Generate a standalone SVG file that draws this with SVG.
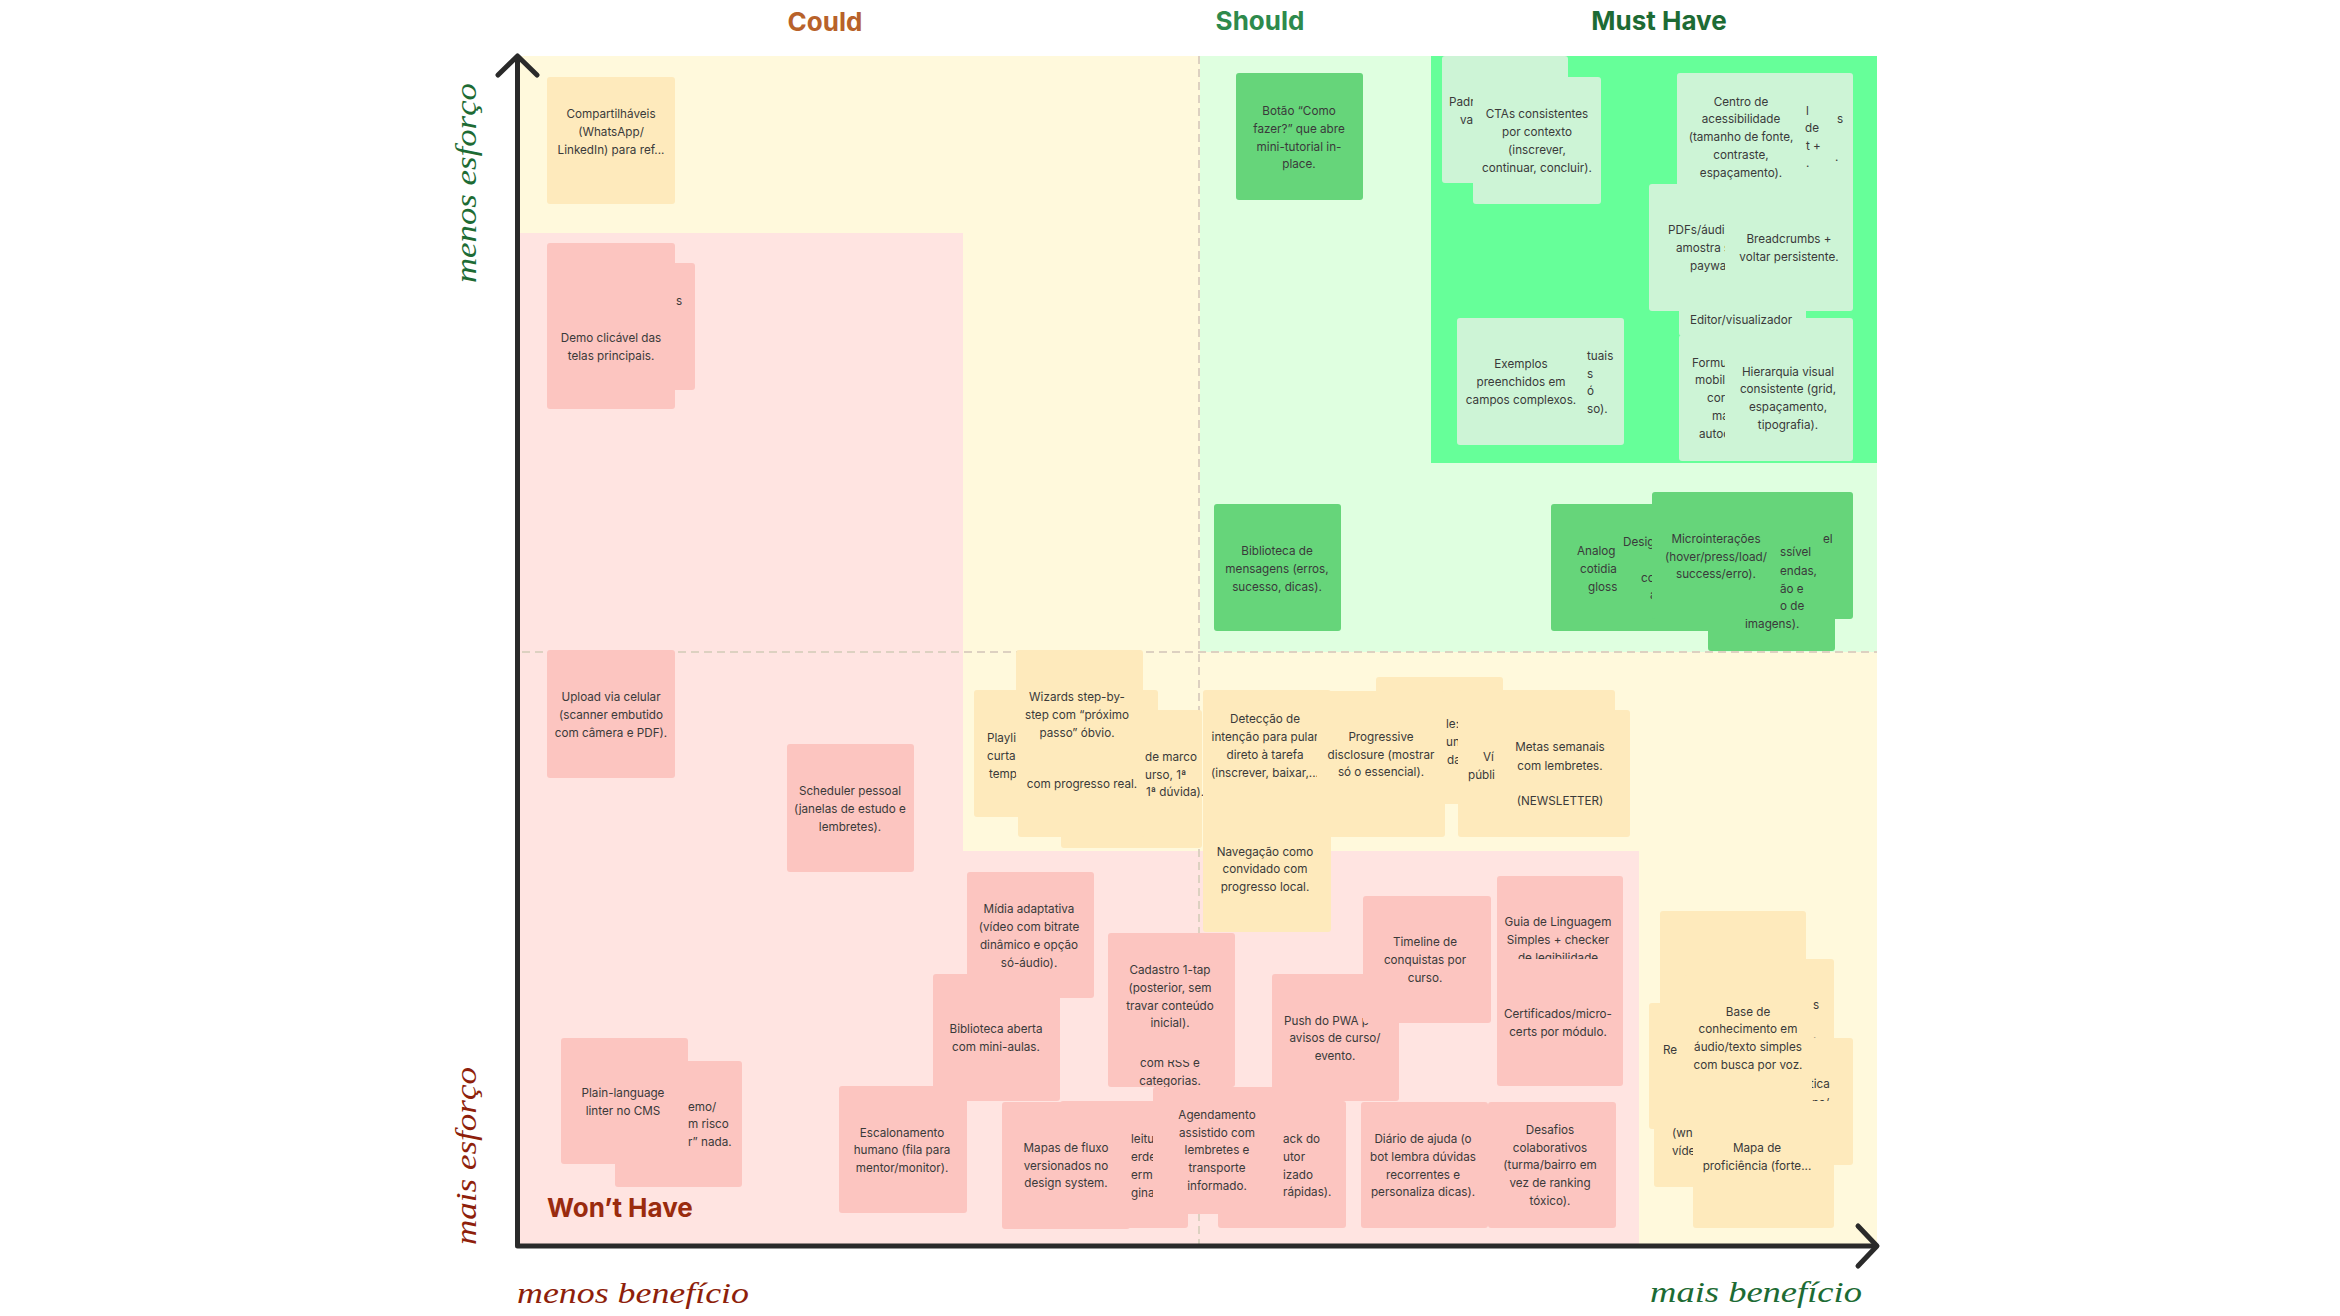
<svg xmlns="http://www.w3.org/2000/svg" width="2340" height="1316" viewBox="0 0 2340 1316">
<style>
.t{font-family:Inter,"Noto Sans","Liberation Sans",sans-serif;font-size:11.7px;fill:#3a3a3a;text-anchor:middle}
.f{text-anchor:start}
.pk{fill:#fcc5c0}
.yl{fill:#feeabc}
.gr{fill:#66d57a}
.lg{fill:#cdf4d6}
.dash{stroke:#ddd1c1;stroke-width:2;stroke-dasharray:8 5;fill:none}
.axis{stroke:#2a2a2a;stroke-width:5;fill:none;stroke-linecap:round;stroke-linejoin:round}
.hd{font-family:Inter,"Liberation Sans",sans-serif;font-weight:700;font-size:26px}
.hw{font-family:"Liberation Serif","DejaVu Serif",serif;font-style:italic;font-size:30px}
</style>
<rect width="2340" height="1316" fill="#ffffff"/>
<g id="quadrants">
<rect x="520" y="56" width="1357" height="1190" fill="#fff9dc"/>
<rect x="1200" y="56" width="677" height="596" fill="#dfffe0"/>
<rect x="1431" y="56" width="446" height="407" fill="#66ff99"/>
<polygon points="520,233 963,233 963,851 1639,851 1639,1246 520,1246" fill="#ffe4e1"/>
</g>
<g id="connectors">
<line x1="1199" y1="56" x2="1199" y2="1244" class="dash"/>
<line x1="522" y1="652" x2="1877" y2="652" class="dash"/>
<path d="M517.5,58 V1246 H1876" class="axis"/>
<polyline points="498,75 517.5,56 537,75" class="axis"/>
<polyline points="1858,1226 1877,1246 1858,1266" class="axis"/>
</g>
<g id="labels">
<text class="hd" x="825" y="31" text-anchor="middle" fill="#b8622a">Could</text>
<text class="hd" x="1260" y="30" text-anchor="middle" fill="#2e8a4c">Should</text>
<text class="hd" x="1659" y="30" text-anchor="middle" fill="#1d6b34">Must Have</text>
<text class="hd" x="547" y="1217" fill="#9a2b0e">Won’t Have</text>
<text class="hw" transform="translate(476,183) rotate(-90)" text-anchor="middle" fill="#1d6b34" textLength="200" lengthAdjust="spacingAndGlyphs">menos esforço</text>
<text class="hw" transform="translate(476,1156) rotate(-90)" text-anchor="middle" fill="#8e1f0b" textLength="178" lengthAdjust="spacingAndGlyphs">mais esforço</text>
<text class="hw" x="517" y="1303" fill="#8e1f0b" textLength="232" lengthAdjust="spacingAndGlyphs">menos benefício</text>
<text class="hw" x="1650" y="1302" fill="#1d6b34" textLength="212" lengthAdjust="spacingAndGlyphs">mais benefício</text>
</g>
<g id="nodes">
<g id="compartilhaveis"><rect class="yl" x="547" y="77" width="128" height="127" rx="3"/><text class="t"><tspan x="611" y="118">Compartilháveis</tspan><tspan x="611" y="136">(WhatsApp/</tspan><tspan x="611" y="154">LinkedIn) para ref...</tspan></text></g>
<g id="demo-back1"><rect class="pk" x="547" y="243" width="128" height="127" rx="3"/></g>
<g id="demo-back2"><rect class="pk" x="567" y="263" width="128" height="127" rx="3"/><text class="t f" x="676" y="305">s</text></g>
<g id="demo"><rect class="pk" x="547" y="282" width="128" height="127" rx="3"/><text class="t"><tspan x="611" y="342">Demo clicável das</tspan><tspan x="611" y="360">telas principais.</tspan></text></g>
<g id="upload"><rect class="pk" x="547" y="650" width="128" height="128" rx="3"/><text class="t"><tspan x="611" y="701">Upload via celular</tspan><tspan x="611" y="719">(scanner embutido</tspan><tspan x="611" y="737">com câmera e PDF).</tspan></text></g>
<g id="scheduler"><rect class="pk" x="787" y="744" width="127" height="128" rx="3"/><text class="t"><tspan x="850" y="795">Scheduler pessoal</tspan><tspan x="850" y="813">(janelas de estudo e</tspan><tspan x="850" y="831">lembretes).</tspan></text></g>
<g id="modo-demo"><rect class="pk" x="615" y="1061" width="127" height="126" rx="3"/><text class="t f"><tspan x="688" y="1111">emo/</tspan><tspan x="688" y="1128">m risco</tspan><tspan x="688" y="1146">r” nada.</tspan></text></g>
<g id="plain-language"><rect class="pk" x="561" y="1038" width="127" height="126" rx="3"/><text class="t"><tspan x="623" y="1097">Plain-language</tspan><tspan x="623" y="1115">linter no CMS</tspan></text></g>
<g id="escalonamento"><rect class="pk" x="839" y="1086" width="128" height="127" rx="3"/><text class="t"><tspan x="902" y="1137">Escalonamento</tspan><tspan x="902" y="1154">humano (fila para</tspan><tspan x="902" y="1172">mentor/monitor).</tspan></text></g>
<g id="midia"><rect class="pk" x="967" y="872" width="127" height="126" rx="3"/><text class="t"><tspan x="1029" y="913">Mídia adaptativa</tspan><tspan x="1029" y="931">(vídeo com bitrate</tspan><tspan x="1029" y="949">dinâmico e opção</tspan><tspan x="1029" y="967">só-áudio).</tspan></text></g>
<g id="biblioteca-aberta"><rect class="pk" x="933" y="974" width="127" height="127" rx="3"/><text class="t"><tspan x="996" y="1033">Biblioteca aberta</tspan><tspan x="996" y="1051">com mini-aulas.</tspan></text></g>
<g id="rss"><rect class="pk" x="1108" y="960" width="127" height="127" rx="3"/><text class="t"><tspan x="1170" y="1067">com RSS e</tspan><tspan x="1170" y="1085">categorias.</tspan></text></g>
<g id="cadastro"><rect class="pk" x="1108" y="933" width="127" height="127" rx="3"/><text class="t"><tspan x="1170" y="974">Cadastro 1-tap</tspan><tspan x="1170" y="992">(posterior, sem</tspan><tspan x="1170" y="1010">travar conteúdo</tspan><tspan x="1170" y="1027">inicial).</tspan></text></g>
<g id="leitura"><rect class="pk" x="1060" y="1101" width="128" height="127" rx="3"/><text class="t f"><tspan x="1131" y="1143">leitu</tspan><tspan x="1131" y="1161">erde,</tspan><tspan x="1131" y="1179">erme</tspan><tspan x="1131" y="1197">gina).</tspan></text></g>
<g id="feedback"><rect class="pk" x="1218" y="1101" width="128" height="127" rx="3"/><text class="t f"><tspan x="1283" y="1143">ack do</tspan><tspan x="1283" y="1161">utor</tspan><tspan x="1283" y="1179">izado</tspan><tspan x="1283" y="1196">rápidas).</tspan></text></g>
<g id="mapas-fluxo"><rect class="pk" x="1002" y="1102" width="128" height="127" rx="3"/><text class="t"><tspan x="1066" y="1152">Mapas de fluxo</tspan><tspan x="1066" y="1170">versionados no</tspan><tspan x="1066" y="1187">design system.</tspan></text></g>
<g id="agendamento"><rect class="pk" x="1153" y="1087" width="128" height="127" rx="3"/><text class="t"><tspan x="1217" y="1119">Agendamento</tspan><tspan x="1217" y="1137">assistido com</tspan><tspan x="1217" y="1154">lembretes e</tspan><tspan x="1217" y="1172">transporte</tspan><tspan x="1217" y="1190">informado.</tspan></text></g>
<g id="push-pwa"><rect class="pk" x="1272" y="974" width="127" height="127" rx="3"/><text class="t"><tspan class="f" x="1284" y="1025" text-anchor="start">Push do PWA p</tspan><tspan x="1335" y="1042">avisos de curso/</tspan><tspan x="1335" y="1060">evento.</tspan></text></g>
<g id="timeline"><rect class="pk" x="1363" y="896" width="128" height="127" rx="3"/><text class="t"><tspan x="1425" y="946">Timeline de</tspan><tspan x="1425" y="964">conquistas por</tspan><tspan x="1425" y="982">curso.</tspan></text></g>
<g id="guia-linguagem"><rect class="pk" x="1497" y="876" width="126" height="127" rx="3"/><text class="t"><tspan x="1558" y="926">Guia de Linguagem</tspan><tspan x="1558" y="944">Simples + checker</tspan><tspan x="1558" y="962">de legibilidade</tspan></text></g>
<g id="certificados"><rect class="pk" x="1497" y="959" width="126" height="127" rx="3"/><text class="t"><tspan x="1558" y="1018">Certificados/micro-</tspan><tspan x="1558" y="1036">certs por módulo.</tspan></text></g>
<g id="diario"><rect class="pk" x="1361" y="1102" width="127" height="126" rx="3"/><text class="t"><tspan x="1423" y="1143">Diário de ajuda (o</tspan><tspan x="1423" y="1161">bot lembra dúvidas</tspan><tspan x="1423" y="1179">recorrentes e</tspan><tspan x="1423" y="1196">personaliza dicas).</tspan></text></g>
<g id="desafios"><rect class="pk" x="1488" y="1102" width="128" height="126" rx="3"/><text class="t"><tspan x="1550" y="1134">Desafios</tspan><tspan x="1550" y="1152">colaborativos</tspan><tspan x="1550" y="1169">(turma/bairro em</tspan><tspan x="1550" y="1187">vez de ranking</tspan><tspan x="1550" y="1205">tóxico).</tspan></text></g>
<g id="playlist"><rect class="yl" x="974" y="690" width="184" height="127" rx="3"/><text class="t f"><tspan x="987" y="742">Playli</tspan><tspan x="987" y="760">curta</tspan><tspan x="989" y="778">temp</tspan></text></g>
<g id="marco"><rect class="yl" x="1061" y="710" width="141" height="138" rx="3"/><text class="t f"><tspan x="1145" y="761">de marco</tspan><tspan x="1145" y="779">urso, 1ª</tspan><tspan x="1146" y="796">1ª dúvida).</tspan></text></g>
<g id="progresso-real"><rect class="yl" x="1018" y="710" width="127" height="127" rx="3"/><text class="t" x="1082" y="788">com progresso real.</text></g>
<g id="wizards"><rect class="yl" x="1016" y="650" width="127" height="127" rx="3"/><text class="t"><tspan x="1077" y="701">Wizards step-by-</tspan><tspan x="1077" y="719">step com “próximo</tspan><tspan x="1077" y="737">passo” óbvio.</tspan></text></g>
<g id="navegacao"><rect class="yl" x="1203" y="805" width="128" height="127" rx="3"/><text class="t"><tspan x="1265" y="856">Navegação como</tspan><tspan x="1265" y="873">convidado com</tspan><tspan x="1265" y="891">progresso local.</tspan></text></g>
<g id="deteccao"><rect class="yl" x="1203" y="690" width="128" height="127" rx="3"/><text class="t"><tspan x="1265" y="723">Detecção de</tspan><tspan x="1265" y="741">intenção para pular</tspan><tspan x="1265" y="759">direto à tarefa</tspan><tspan x="1265" y="777">(inscrever, baixar,...</tspan></text></g>
<g id="sticky-le"><rect class="yl" x="1376" y="677" width="127" height="127" rx="3"/><text class="t f"><tspan x="1446" y="728">le:</tspan><tspan x="1446" y="746">un</tspan><tspan x="1447" y="764">da</tspan></text></g>
<g id="progressive"><rect class="yl" x="1317" y="691" width="128" height="146" rx="3"/><text class="t"><tspan x="1381" y="741">Progressive</tspan><tspan x="1381" y="759">disclosure (mostrar</tspan><tspan x="1381" y="776">só o essencial).</tspan></text></g>
<g id="videos"><rect class="yl" x="1458" y="690" width="157" height="147" rx="3"/><text class="t f"><tspan x="1483" y="761">Ví</tspan><tspan x="1468" y="779">públi</tspan></text></g>
<g id="metas"><rect class="yl" x="1497" y="710" width="133" height="127" rx="3"/><text class="t"><tspan x="1560" y="751">Metas semanais</tspan><tspan x="1560" y="770">com lembretes.</tspan><tspan x="1560" y="805">(NEWSLETTER)</tspan></text></g>
<g id="botao"><rect class="gr" x="1236" y="73" width="127" height="127" rx="3"/><text class="t"><tspan x="1299" y="115">Botão “Como</tspan><tspan x="1299" y="133">fazer?” que abre</tspan><tspan x="1299" y="151">mini-tutorial in-</tspan><tspan x="1299" y="168">place.</tspan></text></g>
<g id="biblioteca-mensagens"><rect class="gr" x="1214" y="504" width="127" height="127" rx="3"/><text class="t"><tspan x="1277" y="555">Biblioteca de</tspan><tspan x="1277" y="573">mensagens (erros,</tspan><tspan x="1277" y="591">sucesso, dicas).</tspan></text></g>
<g id="analogias"><rect class="gr" x="1551" y="504" width="128" height="127" rx="3"/><text class="t f"><tspan x="1577" y="555">Analog</tspan><tspan x="1580" y="573">cotidia</tspan><tspan x="1588" y="591">gloss</tspan></text></g>
<g id="design"><rect class="gr" x="1617" y="504" width="128" height="127" rx="3"/><text class="t f"><tspan x="1623" y="546">Desig</tspan><tspan x="1641" y="582">co</tspan><tspan x="1650" y="599">a</tspan></text></g>
<g id="sticky-el"><rect class="gr" x="1725" y="492" width="128" height="127" rx="3"/><text class="t f" x="1823" y="543">el</text></g>
<g id="acessivel"><rect class="gr" x="1708" y="547" width="127" height="104" rx="3"/><text class="t f"><tspan x="1780" y="556">ssível</tspan><tspan x="1780" y="575">endas,</tspan><tspan x="1780" y="593">ão e</tspan><tspan x="1780" y="610">o de</tspan><tspan x="1745" y="628">imagens).</tspan></text></g>
<g id="microinteracoes"><rect class="gr" x="1652" y="492" width="128" height="127" rx="3"/><text class="t"><tspan x="1716" y="543">Microinterações</tspan><tspan x="1716" y="561">(hover/press/load/</tspan><tspan x="1716" y="578">success/erro).</tspan></text></g>
<g id="padroes"><rect class="lg" x="1442" y="56" width="126" height="127" rx="3"/><text class="t f"><tspan x="1449" y="106">Padr</tspan><tspan x="1460" y="124">va</tspan></text></g>
<g id="ctas"><rect class="lg" x="1473" y="77" width="128" height="127" rx="3"/><text class="t"><tspan x="1537" y="118">CTAs consistentes</tspan><tspan x="1537" y="136">por contexto</tspan><tspan x="1537" y="154">(inscrever,</tspan><tspan x="1537" y="172">continuar, concluir).</tspan></text></g>
<g id="sticky-de"><rect class="lg" x="1725" y="73" width="128" height="127" rx="3"/><text class="t f"><tspan x="1806" y="115">l</tspan><tspan x="1805" y="132">de</tspan><tspan x="1806" y="150">t +</tspan><tspan x="1806" y="167">.</tspan></text></g>
<g id="sticky-s"><text class="t f"><tspan x="1837" y="123">s</tspan><tspan x="1835" y="161">.</tspan></text></g>
<g id="centro-acessibilidade"><rect class="lg" x="1677" y="73" width="128" height="127" rx="3"/><text class="t"><tspan x="1741" y="106">Centro de</tspan><tspan x="1741" y="123">acessibilidade</tspan><tspan x="1741" y="141">(tamanho de fonte,</tspan><tspan x="1741" y="159">contraste,</tspan><tspan x="1741" y="177">espaçamento).</tspan></text></g>
<g id="pdfs"><rect class="lg" x="1649" y="184" width="128" height="127" rx="3"/><text class="t f"><tspan x="1668" y="234">PDFs/áudi</tspan><tspan x="1676" y="252">amostra s</tspan><tspan x="1690" y="270">paywa</tspan></text></g>
<g id="breadcrumbs"><rect class="lg" x="1725" y="184" width="128" height="127" rx="3"/><text class="t"><tspan x="1789" y="243">Breadcrumbs +</tspan><tspan x="1789" y="261">voltar persistente.</tspan></text></g>
<g id="formularios"><rect class="lg" x="1679" y="335" width="128" height="126" rx="3"/><text class="t f"><tspan x="1692" y="367">Formu</tspan><tspan x="1695" y="384">mobil</tspan><tspan x="1707" y="402">cor</tspan><tspan x="1712" y="420">ma</tspan><tspan x="1699" y="438">autoc</tspan></text></g>
<g id="hierarquia"><rect class="lg" x="1725" y="318" width="128" height="143" rx="3"/><text class="t"><tspan x="1788" y="376">Hierarquia visual</tspan><tspan x="1788" y="393">consistente (grid,</tspan><tspan x="1788" y="411">espaçamento,</tspan><tspan x="1788" y="429">tipografia).</tspan></text></g>
<g id="editor"><rect class="lg" x="1679" y="300" width="127" height="36" rx="3"/><text class="t" x="1741" y="324">Editor/visualizador</text></g>
<g id="contextuais"><rect class="lg" x="1496" y="318" width="128" height="127" rx="3"/><text class="t f"><tspan x="1587" y="360">tuais</tspan><tspan x="1587" y="378">s</tspan><tspan x="1587" y="395">ó</tspan><tspan x="1587" y="413">so).</tspan></text></g>
<g id="exemplos"><rect class="lg" x="1457" y="318" width="128" height="127" rx="3"/><text class="t"><tspan x="1521" y="368">Exemplos</tspan><tspan x="1521" y="386">preenchidos em</tspan><tspan x="1521" y="404">campos complexos.</tspan></text></g>
<g id="yellow-top"><rect class="yl" x="1660" y="911" width="146" height="130" rx="3"/></g>
<g id="sticky-s2"><rect class="yl" x="1706" y="959" width="128" height="127" rx="3"/><text class="t f"><tspan x="1813" y="1009">s</tspan><tspan x="1813" y="1039">.</tspan></text></g>
<g id="sticky-re"><rect class="yl" x="1649" y="1003" width="128" height="126" rx="3"/><text class="t f"><tspan x="1663" y="1054">Re</tspan><tspan x="1661" y="1072">par</tspan></text></g>
<g id="sticky-tica"><rect class="yl" x="1725" y="1038" width="128" height="127" rx="3"/><text class="t f"><tspan x="1807" y="1088">ítica</tspan><tspan x="1812" y="1107">ns/</tspan></text></g>
<g id="sticky-video"><rect class="yl" x="1654" y="1060" width="128" height="127" rx="3"/><text class="t f"><tspan x="1672" y="1137">(wn</tspan><tspan x="1672" y="1155">víde</tspan></text></g>
<g id="base-conhecimento"><rect class="yl" x="1684" y="975" width="128" height="127" rx="3"/><text class="t"><tspan x="1748" y="1016">Base de</tspan><tspan x="1748" y="1033">conhecimento em</tspan><tspan x="1748" y="1051">áudio/texto simples</tspan><tspan x="1748" y="1069">com busca por voz.</tspan></text></g>
<g id="mapa-proficiencia"><rect class="yl" x="1693" y="1101" width="141" height="127" rx="3"/><text class="t"><tspan x="1757" y="1152">Mapa de</tspan><tspan x="1757" y="1170">proficiência (forte...</tspan></text></g>
</g>
</svg>
